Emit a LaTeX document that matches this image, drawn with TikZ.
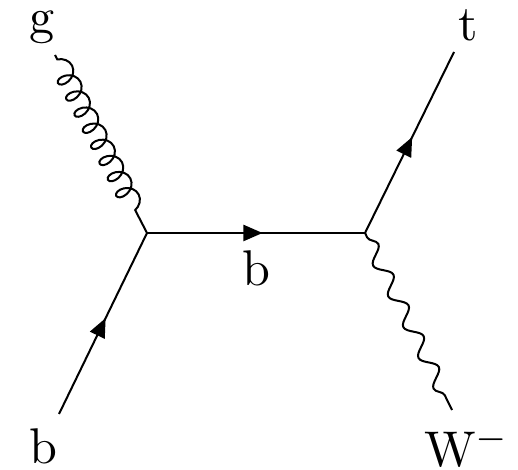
\documentclass[tikz,border=0pt]{standalone}
\usepackage{amsmath}
\usepackage{tikz}
\usetikzlibrary{arrows.meta,decorations.markings,decorations.pathmorphing}

\begin{document}
\begin{tikzpicture}[x=0.007cm,y=-0.007cm,
  fermion/.style={decoration={markings,mark=at position 0.53 with {\arrow{Triangle[length=3.8pt,width=3.2pt]}}},postaction={decorate}},
  gluon/.style={decorate,decoration={coil,amplitude=0.072cm,segment length=0.127cm,aspect=0.75,pre length=1pt,post length=2pt}},
  boson/.style={decorate,decoration={snake,amplitude=0.05cm,segment length=0.24cm,pre length=1pt,post length=1pt}},
  lbl/.style={inner sep=0pt}]
  \useasboundingbox (0,0) rectangle (518,470);
  \coordinate (v1) at (147,233); \coordinate (v2) at (365,233);
  \coordinate (gin) at (55,55); \coordinate (bin) at (59,414);
  \coordinate (tout) at (454,52); \coordinate (wout) at (452,410);
  \draw[gluon] (gin) -- (v1);
  \draw[fermion] (bin) -- (v1);
  \draw[fermion] (v1) -- (v2);
  \draw[fermion] (v2) -- (tout);
  \draw[boson] (v2) -- (wout);
  % labels
  \node[lbl] (glab) at (42,27) {g};
  \node[lbl] (blab) at (43,446) {b};
  \node[lbl] (tlab) at (468,25) {t};
  \node[lbl] (wlab) at (467,447) {W$^-$};
  \node[lbl] (bmid) at (256,268) {b};
\end{tikzpicture}
\end{document}
